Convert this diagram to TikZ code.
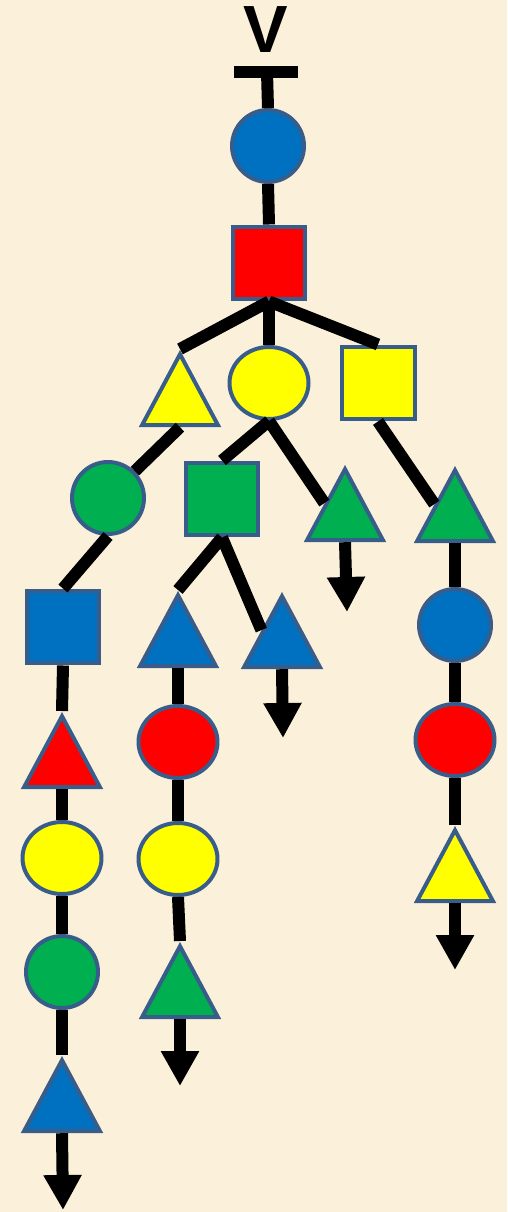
\documentclass[tikz,border=0pt]{standalone}
\usepackage{fontspec}
\setmainfont{Liberation Sans}
\usetikzlibrary{positioning,arrows.meta,shapes.geometric}

\definecolor{paper}{RGB}{251,241,219}
\definecolor{rim}{RGB}{56,93,138}
\definecolor{mblue}{RGB}{0,112,192}
\definecolor{mred}{RGB}{255,0,0}
\definecolor{myellow}{RGB}{255,255,0}
\definecolor{mgreen}{RGB}{0,176,80}

\tikzset{
  sym/.style={draw=rim, line width=0.08cm, inner sep=0pt},
  dot/.style={sym, circle, minimum size=1.44cm},
  blob/.style={sym, ellipse, minimum width=1.58cm, minimum height=1.44cm},
  box/.style={sym, rectangle, minimum size=1.46cm},
  tri/.style={sym, isosceles triangle, isosceles triangle stretches,
    shape border rotate=90, minimum width=1.52cm, minimum height=1.42cm, anchor=apex},
  link/.style={line width=0.24cm},
  flow/.style={link, -{Triangle[width=0.72cm,length=0.7cm]}}
}

\begin{document}
\begin{tikzpicture}[x=0.02cm, y=-0.02cm]
    \fill[paper] (0,0) rectangle (507,1212);
    \useasboundingbox (0,0) rectangle (507,1212);
    \node[font=\bfseries\fontsize{38}{40}\selectfont, inner sep=0pt] (v) at (266,30) {V};
    \coordinate (tl) at (234,72);
    \coordinate (tr) at (298,72);
    \coordinate (tb) at (267,72);
    % glycan units
    \foreach \n/\s/\c/\x/\y in {c1/dot/mblue/268/146, s1/box/mred/269/263,
        t1/tri/myellow/180/349, e1/blob/myellow/269/383, s2/box/myellow/378/383,
        c2/dot/mgreen/108/498, s3/box/mgreen/222/499, t2/tri/mgreen/345/464,
        t3/tri/mgreen/455/465, s4/box/mblue/63/627, t4/tri/mblue/178/590,
        t5/tri/mblue/282/591, c3/dot/mblue/455/625, t6/tri/mred/62/711,
        e2/blob/mred/178/742, e3/blob/mred/455/740, e4/blob/myellow/62/858,
        e5/blob/myellow/178/859, t7/tri/myellow/455/825, c4/dot/mgreen/62/972,
        t8/tri/mgreen/180/941, t9/tri/mblue/62/1055} {
        \node[\s, fill=\c] (\n) at (\x,\y) {};
    }
    \foreach \x/\y/\l in {347/612/a1, 283/738/a2, 455/970/a3, 180/1086/a4, 63/1210/a5} {
        \coordinate (\l) at (\x,\y);
    }
    % bonds
    \draw[link] (tl) -- (tr);
    \foreach \a/\b in {tb/c1.north, c1.south/s1.north, s1.south/t1.apex,
        s1.south/e1.north, s1.south/s2.north, t1.lower side/c2.north east,
        e1.south/s3.north, e1.south/t2.left side, s2.south/t3.left side,
        c2.south/s4.north, s3.south/t4.apex, s3.south/t5.left side,
        t3.lower side/c3.north, s4.south/t6.apex, t4.lower side/e2.north,
        c3.south/e3.north, t6.lower side/e4.north, e2.south/e5.north,
        e3.south/t7.apex, e4.south/c4.north, e5.south/t8.apex,
        c4.south/t9.apex} {
        \draw[link] (\a) -- (\b);
    }
    \foreach \a/\b in {t2/a1, t5/a2, t7/a3, t8/a4, t9/a5} {
        \draw[flow] (\a.lower side) -- (\b);
    }
\end{tikzpicture}
\end{document}
